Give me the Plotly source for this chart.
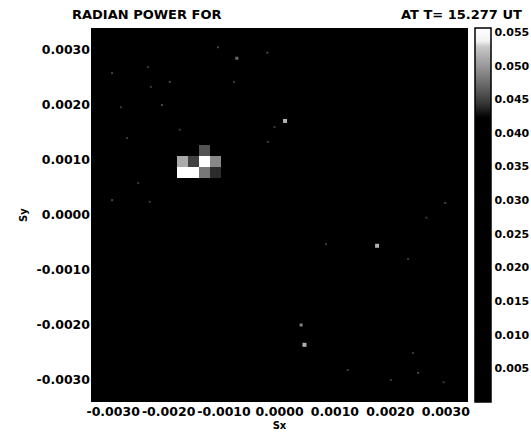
import numpy as np
import plotly.graph_objects as go

# ---- data ----
# radian-power grid (cell spacing and grid origin read off the bright block)
cell_size = 0.0002
grid_x_origin = -0.00185
grid_y_origin = 0.00068

# bright block near (-0.0014, 0.0009)
spot_sx = [-0.00175, -0.00155, -0.00135, -0.00115,
           -0.00175, -0.00155, -0.00135, -0.00115,
           -0.00135]
spot_sy = [0.00098, 0.00098, 0.00098, 0.00098,
           0.00078, 0.00078, 0.00078, 0.00078,
           0.00118]
spot_power = [0.051, 0.045, 0.0556, 0.049,
              0.0556, 0.0556, 0.048, 0.044,
              0.046]

# isolated faint speckles
speck_sx = [-0.00302, -0.00232, -0.00198, -0.00077, -0.00082, -0.00286, -0.00212,
            -0.00022, -0.00009, -0.00237, -0.00180, -0.00275, -0.00302, -0.00234,
            -0.00255, -0.00021, -0.00111, 0.00299, 0.00265, 0.00084, 0.00232,
            0.00039, 0.00045, 0.00241, 0.00250, 0.00296, 0.00123, 0.00201,
            0.00176, 0.00010]
speck_sy = [0.00258, 0.00233, 0.00242, 0.00285, 0.00242, 0.00196, 0.00200,
            0.00295, 0.00160, 0.00269, 0.00155, 0.00140, 0.00027, 0.00024,
            0.00058, 0.00133, 0.00305, 0.00022, -0.00005, -0.00053, -0.00080,
            -0.00200, -0.00236, -0.00251, -0.00287, -0.00304, -0.00282, -0.00300,
            -0.00056, 0.00171]
speck_power = [0.047, 0.046, 0.047, 0.050, 0.046, 0.046, 0.047,
               0.047, 0.046, 0.046, 0.046, 0.046, 0.047, 0.046,
               0.046, 0.046, 0.047, 0.047, 0.046, 0.046, 0.046,
               0.052, 0.055, 0.046, 0.047, 0.046, 0.046, 0.046,
               0.055, 0.0556]
speck_size = [2, 2, 2, 3, 2, 2, 2,
              2, 2, 2, 2, 2, 2, 2,
              2, 2, 2, 2, 2, 2, 2,
              3, 4, 2, 2, 2, 2, 2,
              4, 4]

x_tick_vals = [-0.003, -0.002, -0.001, 0.0, 0.001, 0.002, 0.003]
x_tick_text = ["-0.0030", "-0.0020", "-0.0010", "0.0000", "0.0010", "0.0020", "0.0030"]
y_tick_vals = [-0.003, -0.002, -0.001, 0.0, 0.001, 0.002, 0.003]
y_tick_text = ["-0.0030", "-0.0020", "-0.0010", "0.0000", "0.0010", "0.0020", "0.0030"]
cb_tick_vals = [0.005, 0.010, 0.015, 0.020, 0.025, 0.030, 0.035, 0.040, 0.045, 0.050, 0.055]
cb_tick_text = ["0.005", "0.010", "0.015", "0.020", "0.025", "0.030", "0.035",
                "0.040", "0.045", "0.050", "0.055"]
z_min, z_max = 0.0, 0.0556
axis_range = [-0.0034, 0.0034]

# ---- build grid ----
kx = np.arange(-8, 27)
ky = np.arange(-21, 14)
x_centers = grid_x_origin + (kx + 0.5) * cell_size
y_centers = grid_y_origin + (ky + 0.5) * cell_size
z = np.zeros((len(y_centers), len(x_centers)))
for sx, sy, p in zip(spot_sx, spot_sy, spot_power):
    i = int(np.argmin(np.abs(y_centers - sy)))
    j = int(np.argmin(np.abs(x_centers - sx)))
    z[i, j] = p

colorscale = [
    [0.0, "#000000"], [0.76, "#000000"], [0.80, "#383838"], [0.85, "#6a6a6a"],
    [0.90, "#9a9a9a"], [0.95, "#c8c8c8"], [0.965, "#f2f2f2"], [1.0, "#ffffff"],
]

FONT = "DejaVu Sans"

fig = go.Figure()
fig.add_trace(go.Heatmap(x=x_centers, y=y_centers, z=z, coloraxis="coloraxis",
                         hoverinfo="skip"))
fig.add_trace(go.Scatter(x=speck_sx, y=speck_sy, mode="markers",
                         marker=dict(symbol="square", size=speck_size,
                                     color=speck_power, coloraxis="coloraxis",
                                     line=dict(width=0)),
                         hoverinfo="skip", showlegend=False))

fig.update_layout(
    width=531, height=438,
    margin=dict(l=91, r=63, t=28, b=36, autoexpand=False),
    paper_bgcolor="white", plot_bgcolor="black",
    showlegend=False,
    font=dict(family=FONT, color="black", size=12, weight="bold"),
    coloraxis=dict(
        cmin=z_min, cmax=z_max, colorscale=colorscale,
        colorbar=dict(
            x=1.0186, xanchor="left", xpad=0, y=0.5, yanchor="middle", ypad=0,
            len=1, lenmode="fraction", thickness=16,
            outlinecolor="black", outlinewidth=1.5,
            tickvals=cb_tick_vals, ticktext=cb_tick_text, ticks="", ticklen=0,
            tickfont=dict(family=FONT, size=11, color="black", weight="bold"),
        ),
    ),
    xaxis=dict(range=axis_range, tickvals=x_tick_vals, ticktext=x_tick_text,
               ticks="", showgrid=False, zeroline=False, showline=False,
               tickangle=0, automargin=False,
               tickfont=dict(family=FONT, size=12.5, weight="bold"),
               title=dict(text="Sx", font=dict(family=FONT, size=10, weight="bold"),
                          standoff=4)),
    yaxis=dict(range=axis_range, tickvals=y_tick_vals, ticktext=y_tick_text,
               ticks="", showgrid=False, zeroline=False, showline=False,
               automargin=False,
               tickfont=dict(family=FONT, size=12.5, weight="bold"),
               title=dict(text="Sy", font=dict(family=FONT, size=10, weight="bold"),
                          standoff=7)),
    annotations=[
        dict(text="RADIAN POWER FOR", xref="paper", yref="paper",
             x=-0.0557, y=1.035, xanchor="left", yanchor="middle", showarrow=False,
             font=dict(family=FONT, size=13, color="black", weight="bold")),
        dict(text="AT T= 15.277 UT", xref="paper", yref="paper",
             x=1.1485, y=1.035, xanchor="right", yanchor="middle", showarrow=False,
             font=dict(family=FONT, size=13, color="black", weight="bold")),
    ],
)

# remove the browser's default 8 px body margin so the figure fills the window
fig.write_html("out.html",
               config={"displayModeBar": False},
               post_script="document.body.style.margin='0px';document.body.style.overflow='hidden';")
